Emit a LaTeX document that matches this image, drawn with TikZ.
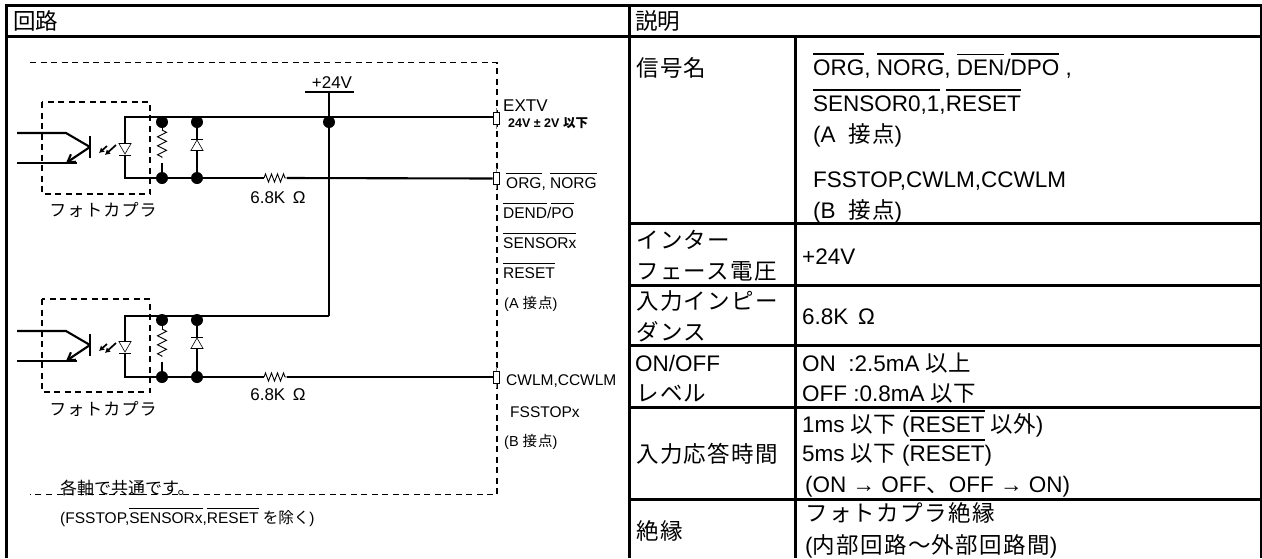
\documentclass[tikz,border=0pt]{standalone}
\usepackage{fontspec}
\setmainfont{Liberation Sans}
\newfontfamily\cjk{Noto Sans CJK JP}
\newfontfamily\cjkwide[LetterSpace=6]{Noto Sans CJK JP}
\newcommand{\jp}[1]{{\cjk #1}}
\newcommand{\jw}[1]{{\cjkwide #1}}
\newcommand{\ovl}[2][4.5pt]{\leavevmode\vbox{\hrule height 1.5pt\kern #1\hbox{#2}}}
\usepackage{tikz}
\usetikzlibrary{shapes.geometric,decorations.pathmorphing,arrows.meta,positioning}
\tikzset{
    grid/.style = {line width=3pt},
    wire/.style = {line width=2.1pt},
    border/.style = {line width=1.7pt, dash pattern=on 6pt off 4.5pt},
    dot/.style = {circle, fill, inner sep=0pt, minimum size=12pt},
    port/.style = {rectangle, draw, line width=0.8pt, fill=white, inner sep=0pt, minimum width=6pt, minimum height=12pt},
    lead/.style = {line width=0.7pt, gray},
    diodedown/.style = {regular polygon, regular polygon sides=3, shape border rotate=180, draw, line width=0.6pt, inner sep=0pt, minimum size=14pt},
    diodeup/.style = {regular polygon, regular polygon sides=3, draw, line width=0.6pt, inner sep=0pt, minimum size=14pt},
    zigv/.style = {decorate, decoration={zigzag, segment length=9pt, amplitude=4.5pt}, line width=0.9pt},
    zigh/.style = {decorate, decoration={zigzag, segment length=6pt, amplitude=4pt}, line width=0.9pt},
    photon/.style = {line width=1.7pt, -{Latex[length=5pt,width=6pt]}},
    cell/.style = {anchor=base west, inner sep=0pt, font=\fontsize{22.5}{27}\selectfont},
    small/.style = {anchor=base west, inner sep=0pt, font=\fontsize{15.5}{19}\selectfont},
    tiny/.style = {anchor=base west, inner sep=0pt, font=\fontsize{14.5}{18}\selectfont},
    value/.style = {anchor=base, inner sep=0pt, font=\fontsize{17}{20}\selectfont}
}

\begin{document}
\begin{tikzpicture}[x=1pt,y=-1pt]
      \useasboundingbox (0,0) rectangle (1262,558);

      \draw[grid] (4.5,5) -- (1262,5);
      \draw[grid] (6,36) -- (1261,36);
      \draw[grid] (6,5) -- (6,558);
      \draw[grid] (629,5) -- (629,558);
      \draw[grid] (795,36) -- (795,558);
      \draw[line width=1.2pt] (1261,5) -- (1261,558);
      \draw[grid] (629,223) -- (1261,223);
      \draw[grid] (629,285) -- (1261,285);
      \draw[grid] (629,345) -- (1261,345);
      \draw[grid] (629,407) -- (1261,407);
      \draw[grid] (629,499) -- (1261,499);

      \node[cell] (head-circuit) at (13,29) {\jp{回路}};
      \node[cell] (head-notes) at (635,29) {\jp{説明}};

      \draw[border] (30,62.5) -- (497,62.5) -- (497,494.5) -- (30,494.5);
      \draw[border] (42,102) rectangle (150,194);
      \draw[border] (42,299) rectangle (150,392);

      % upper input
      \coordinate (inA) at (17,133);
      \coordinate (kneeA) at (66,133);
      \coordinate (baseA) at (90,147);
      \coordinate (inB) at (17,163);
      \coordinate (endB) at (77,163);
      \coordinate (tipB) at (66,163);
      \draw[wire] (inA) -- (kneeA) -- (baseA);
      \draw[wire] (inB) -- (endB);
      \draw[wire,-{Straight Barb[length=7pt,width=9pt]}] (baseA) -- (tipB);
      \draw[wire] (90,136) -- (90,158);
      \draw[photon] (107,146) -- (99,153);
      \draw[photon] (116,145) -- (105,155);

      \node[diodedown] (led1) at (125,147) {};
      \draw[line width=0.8pt] (119,155) -- (131,155);
      \node[dot] (r1top) at (162,122) {};
      \node[dot] (r1bot) at (162,178) {};
      \node[dot] (d1top) at (197,122) {};
      \node[dot] (d1bot) at (197,178) {};
      \node[dot] (tap1) at (329,122) {};
      \draw[lead] (496,108) -- (496,129);
      \draw[lead] (496,168) -- (496,189);
      \node[port] (extv) at (496,118) {};
      \node[port] (org) at (496,178.5) {};
      \coordinate (corner1a) at (125,117);
      \coordinate (corner1b) at (125,178);
      \coordinate (rail1) at (329,117);
      \draw[wire] (led1.corner 1) -- (corner1b) -- (r1bot) -- (d1bot);
      \draw[wire] (led1.side 2) -- (corner1a) -- (rail1) -- (rail1 -| extv.west);
      \coordinate (zig1a) at (162,130);
      \coordinate (zig1b) at (162,158);
      \draw[zigv] (zig1a) -- (zig1b);
      \draw[line width=0.9pt] (r1top) -- (zig1a);
      \draw[wire] (zig1b) ++(0,5) -- (r1bot);
      \node[diodeup] (zen1) at (197,147) {};
      \draw[line width=0.8pt] (191,139) -- (203,139);
      \draw[wire] (d1top) -- (zen1.corner 1);
      \draw[wire] (zen1.side 2) -- (d1bot);
      \coordinate (res1a) at (264,178);
      \coordinate (res1b) at (287,178);
      \draw[wire] (d1bot) -- (res1a);
      \draw[zigh] (res1a) -- (res1b);
      \draw[wire] (res1b) -- (org.west);
      \node[value] (ohm1) at (278,203) {6.8K $\,$Ω};

      % lower input
      \coordinate (inC) at (17,331);
      \coordinate (kneeC) at (66,331);
      \coordinate (baseC) at (90,345);
      \coordinate (inD) at (17,361);
      \coordinate (endD) at (77,361);
      \coordinate (tipD) at (66,361);
      \draw[wire] (inC) -- (kneeC) -- (baseC);
      \draw[wire] (inD) -- (endD);
      \draw[wire,-{Straight Barb[length=7pt,width=9pt]}] (baseC) -- (tipD);
      \draw[wire] (90,334) -- (90,356);
      \draw[photon] (107,344) -- (99,351);
      \draw[photon] (116,343) -- (105,353);

      \node[diodedown] (led2) at (125,345) {};
      \draw[line width=0.8pt] (119,353) -- (131,353);
      \node[dot] (r2top) at (162,320) {};
      \node[dot] (r2bot) at (162,377) {};
      \node[dot] (d2top) at (197,320) {};
      \node[dot] (d2bot) at (197,377) {};
      \draw[lead] (496,367) -- (496,388);
      \node[port] (cwlm) at (496,377) {};
      \coordinate (corner2a) at (125,316);
      \coordinate (corner2b) at (125,377);
      \coordinate (rail2) at (329,316);
      \draw[wire] (led2.corner 1) -- (corner2b) -- (r2bot) -- (d2bot);
      \draw[wire] (led2.side 2) -- (corner2a) -- (rail2);
      \coordinate (zig2a) at (162,329);
      \coordinate (zig2b) at (162,357);
      \draw[zigv] (zig2a) -- (zig2b);
      \draw[line width=0.9pt] (r2top) -- (zig2a);
      \draw[wire] (zig2b) ++(0,5) -- (r2bot);
      \node[diodeup] (zen2) at (197,345) {};
      \draw[line width=0.8pt] (191,337) -- (203,337);
      \draw[wire] (d2top) -- (zen2.corner 1);
      \draw[wire] (zen2.side 2) -- (d2bot);
      \coordinate (res2a) at (264,377);
      \coordinate (res2b) at (287,377);
      \draw[wire] (d2bot) -- (res2a);
      \draw[zigh] (res2a) -- (res2b);
      \draw[wire] (res2b) -- (cwlm.west);
      \node[value] (ohm2) at (278,400) {6.8K $\,$Ω};

      % supply
      \coordinate (bus) at (329,92);
      \draw[wire] (305,92) -- (354,92);
      \draw[wire] (bus) -- (tap1) -- (rail2);
      \node[value] (plus24) at (332,88) {+24V};

      \node[value] (optoA) at (103,216) {\jw{フォトカプラ}};
      \node[value] (optoB) at (103,415) {\jw{フォトカプラ}};

      \node[cell,font=\fontsize{17}{20}\selectfont] (extv-label) at (503,111) {EXTV};
      \node[tiny,font=\fontsize{12.5}{15}\bfseries] (extv-range) at (508,127) {24V ± 2V \jp{以下}};
      \node[small] (org-label) at (506,188) {\ovl[3pt]{ORG}, \ovl[3pt]{NORG}};
      \node[small] (dend-label) at (503,218) {\ovl[3pt]{DEND}/\ovl[3pt]{PO}};
      \node[small] (sensor-label) at (503,248) {\ovl[3pt]{SENSORx}};
      \node[small] (reset-label) at (503,278) {\ovl[3pt]{RESET}};
      \node[tiny] (a-label) at (504,308) {(A \jw{接点})};
      \node[small] (cwlm-label) at (506,385) {CWLM,CCWLM};
      \node[small] (fsstop-label) at (510,417) {FSSTOPx};
      \node[tiny] (b-label) at (504,446) {(B \jw{接点})};
      \node[value,anchor=base west] (common) at (60,494) {\jp{各軸で共通です。}};
      \node[small] (except) at (60,523) {(FSSTOP,\ovl[3pt]{SENSORx},\ovl[3pt]{RESET} \jp{を除く})};

      \node[cell] (signal) at (636,76) {\jw{信号名}};
      \node[cell] (sig-a) at (813,75) {\ovl{ORG}, \ovl{NORG}, \ovl{DEN}/\ovl{DPO} ,};
      \node[cell] (sig-b) at (813,111) {\ovl{SENSOR0,1},\ovl{RESET}};
      \node[cell] (sig-c) at (813,142) {(A\ \ \jw{接点})};
      \node[cell] (sig-d) at (813,187) {FSSTOP,CWLM,CCWLM};
      \node[cell] (sig-e) at (813,218) {(B\ \ \jw{接点})};

      \node[cell] (volt-a) at (636,248) {\jw{インター}};
      \node[cell] (volt-b) at (636,279) {\jw{フェース電圧}};
      \node[cell] (volt-val) at (802,264) {+24V};
      \node[cell] (imp-a) at (636,309) {\jw{入力インピー}};
      \node[cell] (imp-b) at (636,340) {\jw{ダンス}};
      \node[cell] (imp-val) at (802,324) {6.8K $\,$Ω};
      \node[cell] (lvl-a) at (635,371) {ON/OFF};
      \node[cell] (lvl-b) at (636,401) {\jw{レベル}};
      \node[cell] (on-val) at (802,371) {ON\ \ :2.5mA \jp{以上}};
      \node[cell] (off-val) at (802,401) {OFF :0.8mA \jp{以下}};
      \node[cell] (resp) at (636,462) {\jw{入力応答時間}};
      \node[cell] (resp-a) at (802,432) {1ms \jp{以下} (\ovl{RESET} \jp{以外})};
      \node[cell] (resp-b) at (802,461) {5ms \jp{以下} (\ovl{RESET})};
      \node[cell] (resp-c) at (805,492) {(ON → OFF\jp{、}OFF → ON)};
      \node[cell] (iso) at (636,539) {\jw{絶縁}};
      \node[cell] (iso-a) at (805,521) {\jw{フォトカプラ絶縁}};
      \node[cell] (iso-b) at (805,553) {(\jw{内部回路～外部回路間})};
    \end{tikzpicture}
\end{document}
